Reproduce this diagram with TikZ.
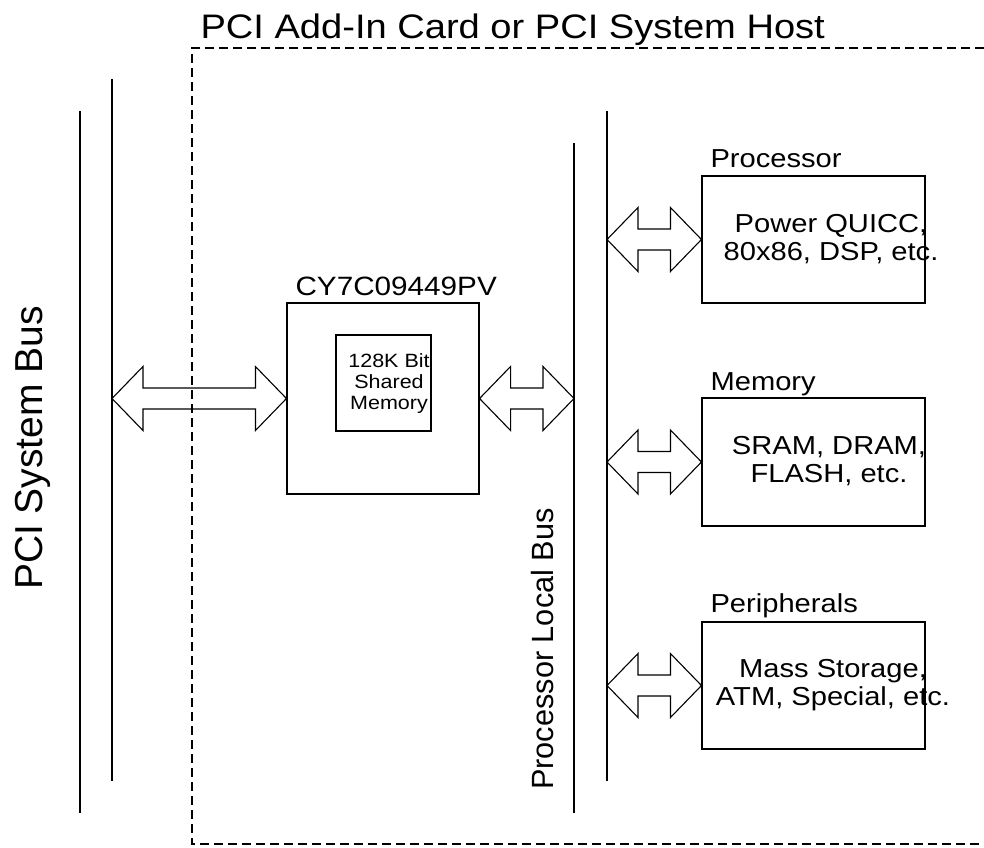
\documentclass[tikz,border=0pt]{standalone}
\usepackage{fontspec}
\setmainfont{Liberation Sans}
\newfontfamily\widesans[FakeStretch=1.12]{Liberation Sans}
\usetikzlibrary{calc}

% hollow double arrow between two points on one level
\newcommand{\busarrow}[2]{%
  \draw let \p1=(#1), \p2=(#2) in
    (\x1,\y1) -- (\x1+31pt,\y1+32pt) -- (\x1+31pt,\y1+10.5pt)
    -- (\x2-31pt,\y1+10.5pt) -- (\x2-31pt,\y1+32pt) -- (\x2,\y1)
    -- (\x2-31pt,\y1-32pt) -- (\x2-31pt,\y1-10.5pt)
    -- (\x1+31pt,\y1-10.5pt) -- (\x1+31pt,\y1-32pt) -- cycle;}

\begin{document}
\begin{tikzpicture}[x=1pt, y=-1pt, line width=1.1pt,
                    every node/.style={inner sep=0pt},
                    box/.style={draw, rectangle},
                    hosttext/.style={font=\widesans\fontsize{34}{40}\selectfont},
                    tag/.style={font=\widesans\fontsize{26}{28}\selectfont},
                    boxtext/.style={font=\widesans\fontsize{26}{28}\selectfont, align=center},
                    memtext/.style={font=\widesans\fontsize{19.2}{21}\selectfont, align=center},
                    frame/.style={dash pattern=on 9pt off 5pt}]

                    \useasboundingbox (0,0) rectangle (984,847);

                    % Define bus ends
                    \coordinate (pciA-top) at (80,111);
                    \coordinate (pciA-bot) at (80,813);
                    \coordinate (pciB-top) at (112,79);
                    \coordinate (pciB-bot) at (112,781);
                    \coordinate (locA-top) at (574,143);
                    \coordinate (locA-bot) at (574,813);
                    \coordinate (locB-top) at (607,111);
                    \coordinate (locB-bot) at (607,781);

                    % Define nodes
                    \node[hosttext, anchor=base west] (host) at (200,38) {PCI Add-In Card or PCI System Host};
                    \node[box, minimum width=192pt, minimum height=191pt] (chip) at (383,398.5) {}; % Bridge chip
                    \node[tag, anchor=base west] (chiplbl) at (295,295) {\fontsize{26.5}{28}\selectfont CY7C09449PV};
                    \node[box, minimum width=95pt, minimum height=96pt] (shmem) at (383.5,383) {}; % Inside chip
                    \node[memtext] (shmemtxt) at (389,383.5) {128K Bit\\Shared\\Memory};
                    \node[box, minimum width=223pt, minimum height=127pt] (proc) at (813.5,239.5) {}; % Top right
                    \node[tag, anchor=base west] (proclbl) at (710,167) {Processor};
                    \node[boxtext] (proctxt) at (831,239) {Power QUICC,\\80x86, DSP, etc.};
                    \node[box, minimum width=223pt, minimum height=128pt] (mem) at (813.5,462) {}; % Middle right
                    \node[tag, anchor=base west] (memlbl) at (710,390) {Memory};
                    \node[boxtext] (memtxt) at (829,461.5) {SRAM, DRAM,\\FLASH, etc.};
                    \node[box, minimum width=223pt, minimum height=127pt] (peri) at (813.5,685.5) {}; % Bottom right
                    \node[tag, anchor=base west] (perilbl) at (710,612) {Peripherals};
                    \node[boxtext] (peritxt) at (833,685) {Mass Storage,\\ATM, Special, etc.};
                    \node[rotate=90, anchor=base, font=\fontsize{39}{44}\selectfont] (pcibus) at (42,448) {PCI System Bus};
                    \node[rotate=90, anchor=base, font=\fontsize{30.7}{36}\selectfont] (locbus) at (553,649) {Processor Local Bus};

                    % Define edges
                    \draw[frame] (984,48) -- (192,48) -- (192,844) -- (984,844);
                    \draw (pciA-top) -- (pciA-bot);
                    \draw (pciB-top) -- (pciB-bot);
                    \draw (locA-top) -- (locA-bot);
                    \draw (locB-top) -- (locB-bot);
                    \busarrow{pciB-top |- chip.west}{chip.west}
                    \busarrow{chip.east}{locA-top |- chip.east}
                    \busarrow{locB-top |- proc.west}{proc.west}
                    \busarrow{locB-top |- mem.west}{mem.west}
                    \busarrow{locB-top |- peri.west}{peri.west}
                \end{tikzpicture}
\end{document}
